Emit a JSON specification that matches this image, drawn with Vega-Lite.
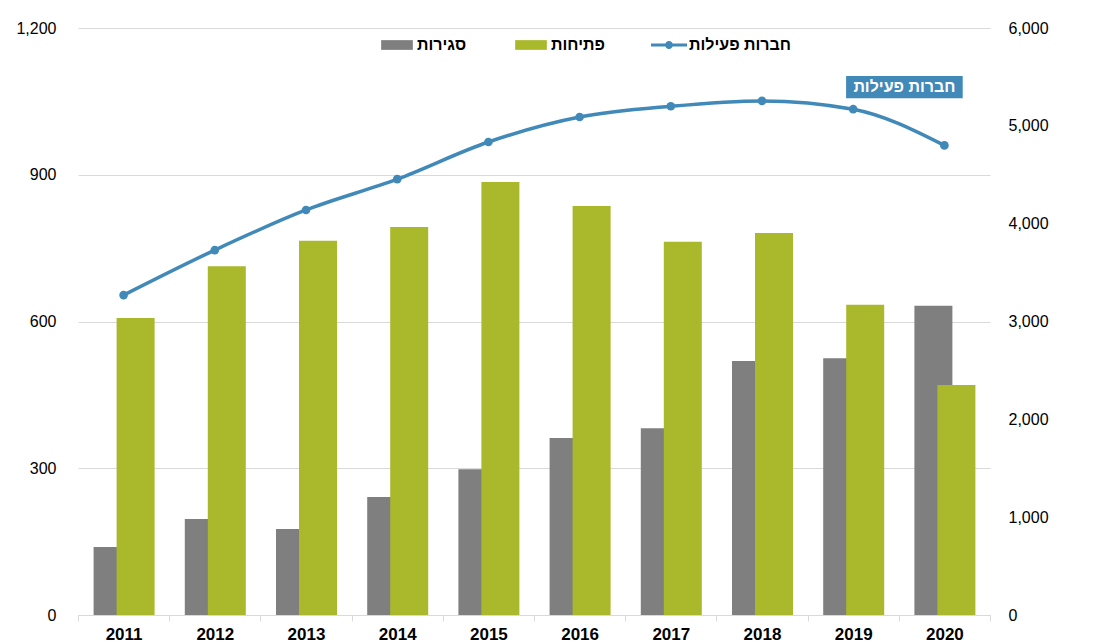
{
  "$schema": "https://vega.github.io/schema/vega-lite/v6.json",
  "autosize": {"type": "none"},
  "padding": {"left": 78, "top": 28, "right": 104, "bottom": 29},
  "width": 912,
  "height": 587,
  "background": "#ffffff",
  "config": {
    "font": "Liberation Sans",
    "view": {"stroke": null}
  },
  "datasets": {
    "bars": [
      {"year": 2011, "series": "סגירות", "value": 139},
      {"year": 2011, "series": "פתיחות", "value": 607},
      {"year": 2012, "series": "סגירות", "value": 196},
      {"year": 2012, "series": "פתיחות", "value": 713},
      {"year": 2013, "series": "סגירות", "value": 176},
      {"year": 2013, "series": "פתיחות", "value": 765},
      {"year": 2014, "series": "סגירות", "value": 241},
      {"year": 2014, "series": "פתיחות", "value": 793},
      {"year": 2015, "series": "סגירות", "value": 298},
      {"year": 2015, "series": "פתיחות", "value": 885},
      {"year": 2016, "series": "סגירות", "value": 362},
      {"year": 2016, "series": "פתיחות", "value": 836},
      {"year": 2017, "series": "סגירות", "value": 382},
      {"year": 2017, "series": "פתיחות", "value": 763},
      {"year": 2018, "series": "סגירות", "value": 519},
      {"year": 2018, "series": "פתיחות", "value": 781},
      {"year": 2019, "series": "סגירות", "value": 525},
      {"year": 2019, "series": "פתיחות", "value": 634},
      {"year": 2020, "series": "סגירות", "value": 632},
      {"year": 2020, "series": "פתיחות", "value": 470}
    ],
    "active": [
      {"year": 2011, "series": "חברות פעילות", "value": 3270},
      {"year": 2012, "series": "חברות פעילות", "value": 3730},
      {"year": 2013, "series": "חברות פעילות", "value": 4140},
      {"year": 2014, "series": "חברות פעילות", "value": 4455},
      {"year": 2015, "series": "חברות פעילות", "value": 4835},
      {"year": 2016, "series": "חברות פעילות", "value": 5090},
      {"year": 2017, "series": "חברות פעילות", "value": 5200},
      {"year": 2018, "series": "חברות פעילות", "value": 5255},
      {"year": 2019, "series": "חברות פעילות", "value": 5170},
      {"year": 2020, "series": "חברות פעילות", "value": 4800}
    ],
    "note": [
      {"year": 2020, "value": 5395, "label": "חברות פעילות"}
    ]
  },
  "resolve": {"scale": {"y": "independent"}},
  "layer": [
    {
      "data": {"name": "bars"},
      "encoding": {
        "x": {
          "field": "year", "type": "ordinal",
          "scale": {"paddingInner": 0, "paddingOuter": 0},
          "axis": {
            "title": null, "labelAngle": 0, "labelFontWeight": "bold", "labelFontSize": 17,
            "labelColor": "#000000", "domainColor": "#d9d9d9", "domainWidth": 1,
            "tickColor": "#d9d9d9", "tickSize": 6, "tickBand": "extent", "labelPadding": 5, "grid": false
          }
        },
        "y": {
          "field": "value", "type": "quantitative",
          "scale": {"domain": [0, 1200], "nice": false},
          "axis": {
            "orient": "left", "title": null, "values": [0, 300, 600, 900, 1200], "format": ",.0f",
            "grid": true, "gridColor": "#d9d9d9", "gridWidth": 1, "domain": false, "ticks": false,
            "labelPadding": 22, "labelFontSize": 16, "labelColor": "#000000"
          }
        },
        "color": {
          "field": "series", "type": "nominal",
          "scale": {"domain": ["סגירות", "פתיחות", "חברות פעילות"], "range": ["#7f7f7f", "#a9b92b", "#4189b8"]},
          "legend": {
            "orient": "none", "legendX": 301, "legendY": -1, "direction": "horizontal", "columns": 3,
            "title": null, "padding": 0, "symbolSize": 1296, "labelOffset": 2, "columnPadding": 46,
            "labelFontSize": 16, "labelFontWeight": "bold", "labelColor": "#000000",
            "encode": {
              "symbols": {
                "update": {
                  "shape": {"signal": "datum.value === 'חברות פעילות' ? 'M-1,-0.08H1V0.08H-1Z M-0.22,0A0.22,0.22 0 1 1 0.22,0A0.22,0.22 0 1 1 -0.22,0Z' : 'M-0.88,-0.27H0.88V0.27H-0.88Z'"},
                  "fill": {"scale": "color", "field": "value"},
                  "stroke": {"value": "transparent"},
                  "strokeWidth": {"value": 0},
                  "opacity": {"value": 1}
                }
              }
            }
          }
        }
      },
      "layer": [
        {
          "transform": [{"filter": "datum.series === 'סגירות'"}],
          "mark": {"type": "bar", "width": 38, "xOffset": -11}
        },
        {
          "transform": [{"filter": "datum.series === 'פתיחות'"}],
          "mark": {"type": "bar", "width": 38, "xOffset": 12}
        }
      ]
    },
    {
      "encoding": {
        "x": {"field": "year", "type": "ordinal"},
        "y": {
          "field": "value", "type": "quantitative",
          "scale": {"domain": [0, 6000], "nice": false},
          "axis": {
            "orient": "right", "title": null, "values": [0, 1000, 2000, 3000, 4000, 5000, 6000], "format": ",.0f",
            "grid": false, "domain": false, "ticks": false,
            "labelPadding": 18, "labelFontSize": 16, "labelColor": "#000000"
          }
        }
      },
      "layer": [
        {
          "data": {"name": "active"},
          "mark": {"type": "line", "interpolate": "monotone", "strokeWidth": 3.5, "point": {"filled": true, "size": 75}},
          "encoding": {"color": {"field": "series", "type": "nominal"}}
        },
        {
          "data": {"name": "note"},
          "mark": {"type": "point", "filled": true, "opacity": 1, "color": "#4189b8", "xOffset": -40,
                   "shape": "M-1,-0.19H1V0.19H-1Z", "size": 13596}
        },
        {
          "data": {"name": "note"},
          "mark": {"type": "text", "color": "#ffffff", "fontWeight": "bold", "fontSize": 16, "xOffset": -40, "baseline": "middle"},
          "encoding": {"text": {"field": "label"}}
        }
      ]
    }
  ]
}
